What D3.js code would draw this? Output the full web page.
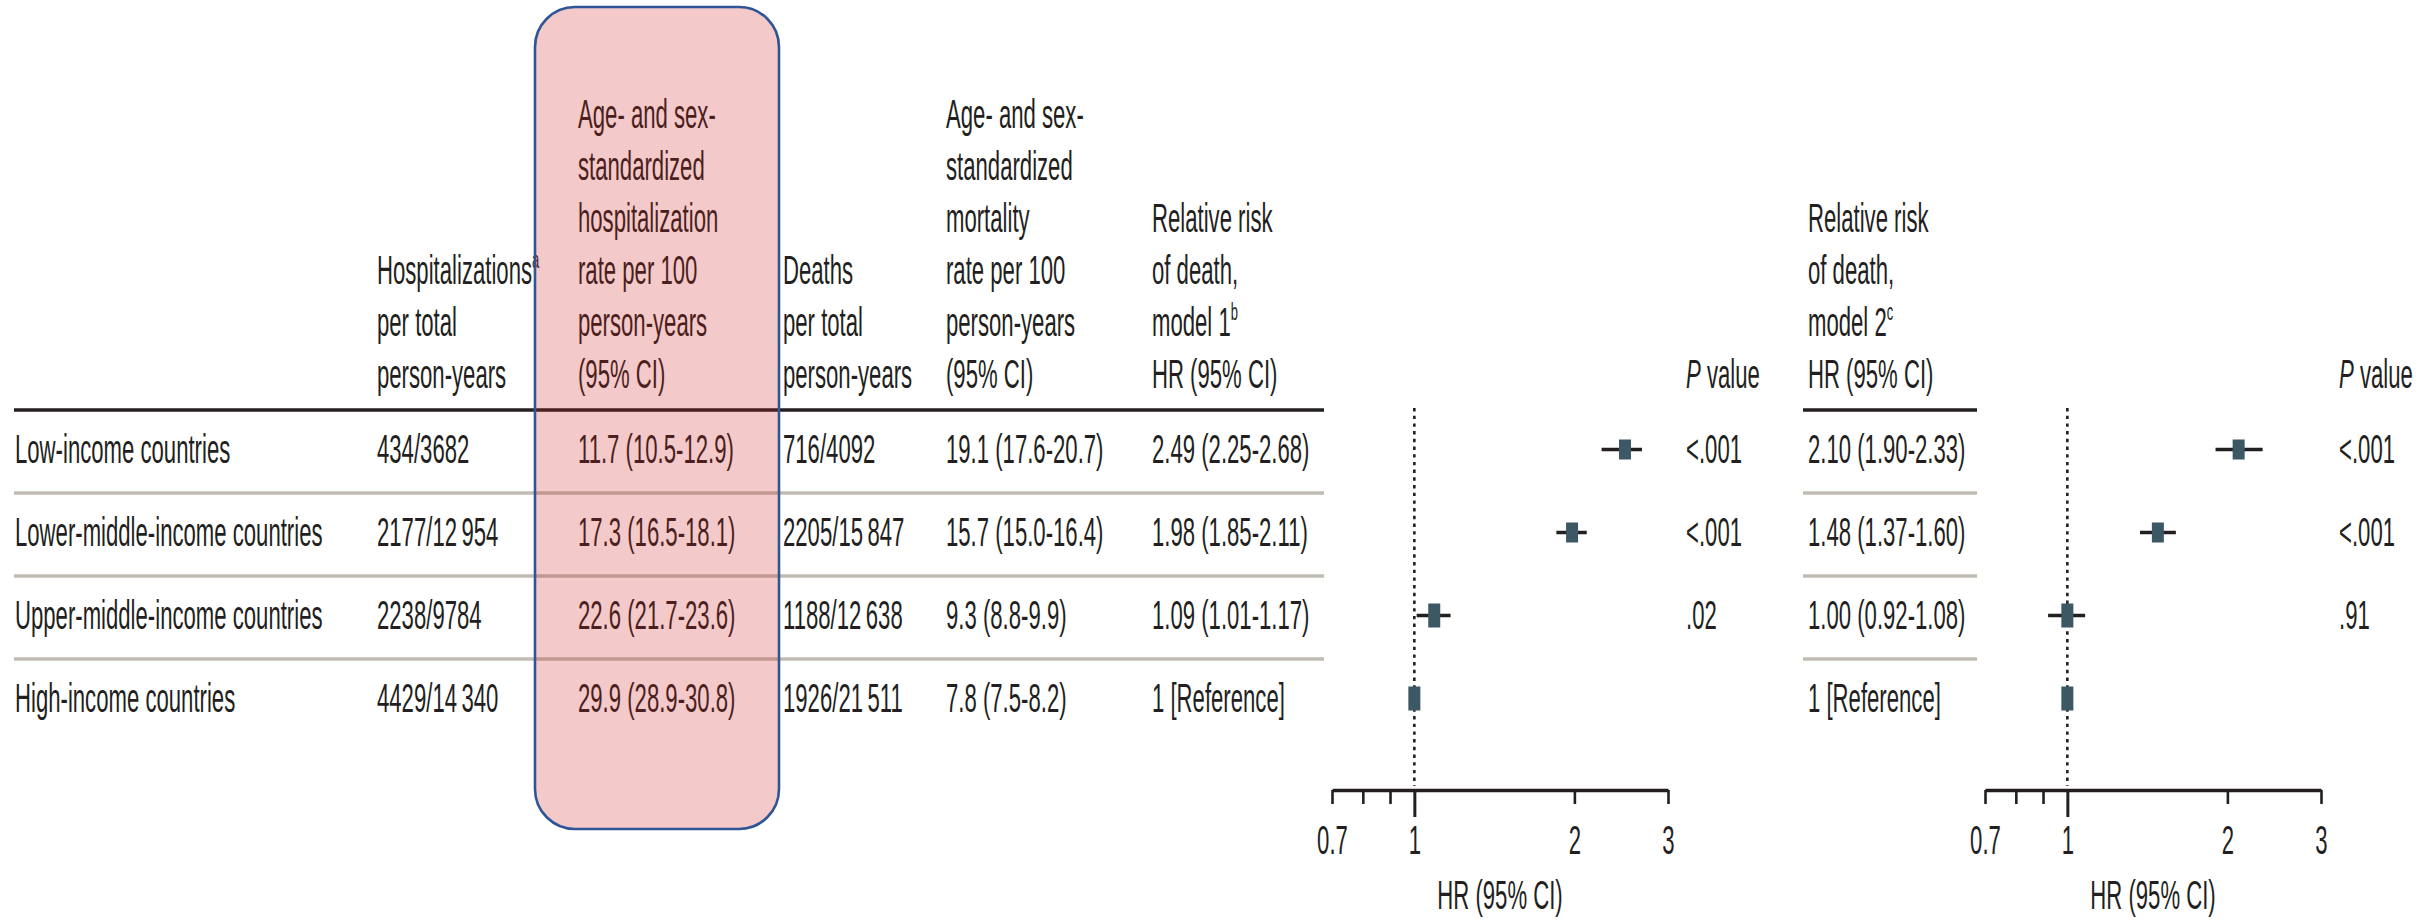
<!DOCTYPE html>
<html>
<head>
<meta charset="utf-8">
<script src="https://cdn.jsdelivr.net/npm/d3@7"></script>
<style>
  body { margin: 0; background: #fff; }
  svg { display: block; }
</style>
</head>
<body>
<svg id="chart" width="2433" height="920"></svg>
<script>
// ---------- data ----------
const countries = [
  "Low-income countries",
  "Lower-middle-income countries",
  "Upper-middle-income countries",
  "High-income countries"
];
const hospCounts = ["434/3682", "2177/12\u2009954", "2238/9784", "4429/14\u2009340"];
const hospRate = [11.7, 17.3, 22.6, 29.9];
const hospRateLow = [10.5, 16.5, 21.7, 28.9];
const hospRateHigh = [12.9, 18.1, 23.6, 30.8];
const deathCounts = ["716/4092", "2205/15\u2009847", "1188/12\u2009638", "1926/21\u2009511"];
const mortRate = [19.1, 15.7, 9.3, 7.8];
const mortRateLow = [17.6, 15.0, 8.8, 7.5];
const mortRateHigh = [20.7, 16.4, 9.9, 8.2];

// Hazard ratios, model 1 and model 2 (last row is the reference group)
const hr1 = [2.49, 1.98, 1.09, 1];
const hr1Low = [2.25, 1.85, 1.01, null];
const hr1High = [2.68, 2.11, 1.17, null];
const p1 = ["<.001", "<.001", ".02", ""];
const hr2 = [2.10, 1.48, 1.00, 1];
const hr2Low = [1.90, 1.37, 0.92, null];
const hr2High = [2.33, 1.60, 1.08, null];
const p2 = ["<.001", "<.001", ".91", ""];

const axisTicks = [0.7, 0.8, 0.9, 1, 2, 3];
const axisTickLabels = ["0.7", "", "", "1", "2", "3"];
const axisTitle = "HR (95% CI)";

const headHosp = ["Hospitalizations", "per total", "person-years"];
const headHospRate = ["Age- and sex-", "standardized", "hospitalization", "rate per 100", "person-years", "(95% CI)"];
const headDeaths = ["Deaths", "per total", "person-years"];
const headMortRate = ["Age- and sex-", "standardized", "mortality", "rate per 100", "person-years", "(95% CI)"];
const headModel1 = ["Relative risk", "of death,", "model 1", "HR (95% CI)"];
const headModel2 = ["Relative risk", "of death,", "model 2", "HR (95% CI)"];

// ---------- layout & style ----------
const FONT = "'Liberation Sans', Arial, sans-serif";
const FS = 41;          // font size
const SX = 0.54;        // horizontal condensing of glyphs
const INK = "#231f20";
const colX = { country: 15, hosp: 377, hospRate: 578, deaths: 783, mortRate: 946,
               model1: 1152, p1: 1686, model2: 1808, p2: 2339 };
const headBase = 388, headLine = 52;
const rowBase0 = 463, rowStep = 83;
const ruleY = 410;
const markerColor = "#3c5864";
const markerW = 12;
const markerH = [20, 20, 24, 24];

const svg = d3.select("#chart");
const fmt1 = d3.format(".1f");
const fmt2 = d3.format(".2f");
const rowBase = i => rowBase0 + i * rowStep;

function text(parent, x, y, str, anchor = "start") {
  if (!str) return null;
  return parent.append("text")
    .attr("transform", `translate(${x},${y}) scale(${SX},1)`)
    .attr("text-anchor", anchor)
    .attr("font-family", FONT)
    .attr("font-size", FS)
    .attr("fill", INK)
    .text(str);
}

function header(x, lines, supLine = -1, sup = "") {
  const n = lines.length;
  lines.forEach((ln, k) => {
    const t = text(svg, x, headBase - (n - 1 - k) * headLine, ln);
    if (k === supLine) {
      t.append("tspan").attr("font-size", 24).attr("dy", -16).text(sup);
    }
  });
}

function pHeader(x) {
  const t = svg.append("text")
    .attr("transform", `translate(${x},${headBase}) scale(${SX},1)`)
    .attr("font-family", FONT).attr("font-size", FS).attr("fill", INK);
  t.append("tspan").attr("font-style", "italic").text("P");
  t.append("tspan").text(" value");
}

// ---------- table rules ----------
const rowIdx = d3.range(countries.length);
function rules(x0, x1) {
  svg.append("line").attr("x1", x0).attr("x2", x1).attr("y1", ruleY).attr("y2", ruleY)
    .attr("stroke", "#231f20").attr("stroke-width", 3.6);
  svg.selectAll(null).data(rowIdx.slice(1)).enter().append("line")
    .attr("x1", x0).attr("x2", x1)
    .attr("y1", i => ruleY + i * rowStep).attr("y2", i => ruleY + i * rowStep)
    .attr("stroke", "#c0bcb4").attr("stroke-width", 3.4);
}
rules(14, 1324);
rules(1803, 1977);

// ---------- headers ----------
header(colX.hosp, headHosp, 0, "a");
header(colX.hospRate, headHospRate);
header(colX.deaths, headDeaths);
header(colX.mortRate, headMortRate);
header(colX.model1, headModel1, 2, "b");
pHeader(colX.p1);
header(colX.model2, headModel2, 2, "c");
pHeader(colX.p2);

// ---------- body cells ----------
const ci1 = (v, lo, hi) => `${fmt1(v)} (${fmt1(lo)}-${fmt1(hi)})`;
const hrText = (v, lo, hi) => lo == null ? `${v} [Reference]` : `${fmt2(v)} (${fmt2(lo)}-${fmt2(hi)})`;
rowIdx.forEach(i => {
  const y = rowBase(i);
  text(svg, colX.country, y, countries[i]);
  text(svg, colX.hosp, y, hospCounts[i]);
  text(svg, colX.hospRate, y, ci1(hospRate[i], hospRateLow[i], hospRateHigh[i]));
  text(svg, colX.deaths, y, deathCounts[i]);
  text(svg, colX.mortRate, y, ci1(mortRate[i], mortRateLow[i], mortRateHigh[i]));
  text(svg, colX.model1, y, hrText(hr1[i], hr1Low[i], hr1High[i]));
  text(svg, colX.p1, y, p1[i]);
  text(svg, colX.model2, y, hrText(hr2[i], hr2Low[i], hr2High[i]));
  text(svg, colX.p2, y, p2[i]);
});

// ---------- forest plots ----------
const axisY = 790;
function forest(range, hr, lo, hi) {
  const x = d3.scaleLog().domain([0.7, 3]).range(range);
  const g = svg.append("g");

  // reference line at HR = 1
  g.append("line")
    .attr("x1", x(1)).attr("x2", x(1)).attr("y1", 408).attr("y2", 786)
    .attr("stroke", "#231f20").attr("stroke-width", 2.6)
    .attr("stroke-dasharray", "3.4,4.3");

  // axis
  const ax = d3.axisBottom(x)
    .tickValues(axisTicks)
    .tickSize(14)
    .tickSizeOuter(0)
    .tickFormat((d, i) => axisTickLabels[i]);
  const axG = g.append("g").attr("transform", `translate(0,${axisY})`).call(ax);
  axG.select(".domain").attr("stroke", "#231f20").attr("stroke-width", 3.6);
  axG.selectAll(".tick line").attr("stroke", "#231f20").attr("stroke-width", 2.6)
    .filter(d => d === 1).attr("y2", 27).attr("stroke-width", 3);
  axG.selectAll(".tick text")
    .filter((d, i) => !axisTickLabels[i]).remove();
  axG.selectAll(".tick text")
    .attr("y", 64).attr("dy", 0)
    .attr("transform", `scale(${SX},1)`)
    .attr("font-family", FONT).attr("font-size", FS).attr("fill", INK);

  text(g, (range[0] + range[1]) / 2, 909, axisTitle, "middle");

  // confidence intervals
  rowIdx.filter(i => lo[i] != null).forEach(i => {
    const cy = rowBase(i) - 13.5;
    g.append("line")
      .attr("x1", x(lo[i])).attr("x2", x(hi[i])).attr("y1", cy).attr("y2", cy)
      .attr("stroke", "#231f20").attr("stroke-width", 3.5);
  });
  // point estimates
  g.selectAll(null).data(rowIdx).enter().append("rect")
    .attr("x", i => x(hr[i]) - markerW / 2)
    .attr("y", i => rowBase(i) - 13.5 - markerH[i] / 2)
    .attr("width", markerW)
    .attr("height", i => markerH[i])
    .attr("fill", markerColor);
}
forest([1332, 1668], hr1, hr1Low, hr1High);
forest([1985, 2321], hr2, hr2Low, hr2High);

// ---------- highlighted hospitalization-rate column ----------
svg.append("rect")
  .attr("x", 535).attr("y", 7).attr("width", 244).attr("height", 822)
  .attr("rx", 40).attr("ry", 40)
  .attr("fill", "rgb(205,30,30)").attr("fill-opacity", 0.24)
  .attr("stroke", "#2f5597").attr("stroke-width", 2.6);
</script>
</body>
</html>
